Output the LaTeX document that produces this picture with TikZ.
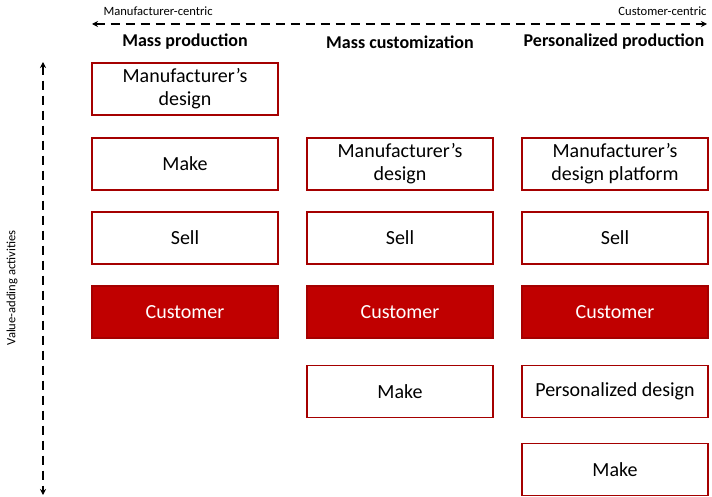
\documentclass[tikz,border=0pt]{standalone}
\usepackage{fontspec}
\setmainfont{Carlito}
\usetikzlibrary{arrows.meta}
\definecolor{dred}{HTML}{C00000}
\definecolor{bred}{HTML}{A50000}
\begin{document}
\begin{tikzpicture}[x=1pt,y=-1pt,
  cell/.style={draw=bred,line width=1.8pt,minimum width=186pt,minimum height=52pt,inner sep=0pt,align=center,font=\fontsize{20}{23}\selectfont},
  cust/.style={cell,fill=dred,text=white},
  head/.style={font=\bfseries\fontsize{18}{21}\selectfont},
  small/.style={font=\fontsize{12.6}{15}\selectfont},
  darr/.style={line width=1.6pt,dash pattern=on 9pt off 6pt,{Stealth[length=6pt,width=6pt]}-{Stealth[length=6pt,width=6pt]}}]
\useasboundingbox (0,0) rectangle (712,497);
% top axis
\coordinate (tl) at (92,24);
\coordinate (tr) at (707,24);
\draw[darr] (tl) -- (tr);
\node[small,anchor=west] (mc) at (100,11) {Manufacturer-centric};
\node[small,anchor=east] (cc) at (710,11) {Customer-centric};
% left axis
\coordinate (vt) at (43,62);
\coordinate (vb) at (43,495);
\draw[darr] (vt) -- (vb);
\node[small,rotate=90] (va) at (12,288) {Value-adding activities};
% headers
\node[head] (h1) at (185,42) {Mass production};
\node[head] (h2) at (400,42) {Mass customization};
\node[head] (h3) at (614,42) {Personalized production};
% column 1
\node[cell] (a1) at (185,89) {Manufacturer’s\\design};
\node[cell] (a2) at (185,164) {Make};
\node[cell] (a3) at (185,238) {Sell};
\node[cust] (a4) at (185,312) {Customer};
% column 2
\node[cell] (b1) at (400,164) {Manufacturer’s\\design};
\node[cell] (b2) at (400,238) {Sell};
\node[cust] (b3) at (400,312) {Customer};
\node[cell] (b4) at (400,391.5) {Make};
% column 3
\node[cell] (c1) at (615,164) {Manufacturer’s\\design platform};
\node[cell] (c2) at (615,238) {Sell};
\node[cust] (c3) at (615,312) {Customer};
\node[cell] (c4) at (615,391.5) {Personalized design};
\node[cell] (c5) at (615,469.5) {Make};
\end{tikzpicture}
\end{document}
